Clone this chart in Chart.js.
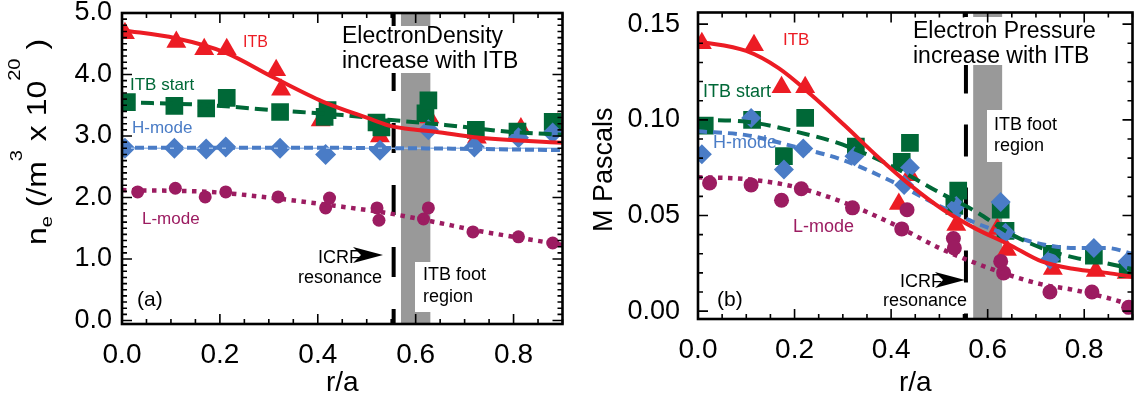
<!DOCTYPE html>
<html>
<head>
<meta charset="utf-8">
<script src="https://cdn.jsdelivr.net/npm/chart.js@4/dist/chart.umd.min.js"></script>
<style>
  html, body { margin: 0; padding: 0; background: #fff; overflow: hidden; }
  #wrap { position: relative; width: 1140px; height: 404px; overflow: hidden; }
  canvas { position: absolute; top: 0; }
</style>
</head>
<body>
<div id="wrap">
  <canvas id="ne" width="575" height="404" style="left:0"></canvas>
  <canvas id="pe" width="570" height="404" style="left:575px"></canvas>
</div>
<script>
const X_TICKS = [0, 0.2, 0.4, 0.6, 0.8];
const NE_TICKS = [0, 1, 2, 3, 4, 5];
const PE_TICKS = [0, 0.05, 0.1, 0.15];
const ICRF_R = 0.555;          // ICRF resonance position
const FOOT_R = [0.57, 0.63];   // ITB foot region

// (a) electron density, [r/a, 10^20 m^-3]
const neItbPts = [[0.006, 4.67], [0.111, 4.53], [0.168, 4.41], [0.214, 4.41], [0.315, 4.07], [0.325, 3.75],
  [0.406, 3.25], [0.527, 2.99], [0.628, 3.30], [0.725, 2.97], [0.815, 3.12], [0.89, 3.20]];
const neItbFit = [[0, 4.72], [0.11, 4.59], [0.21, 4.36], [0.31, 3.95], [0.41, 3.56], [0.51, 3.27],
  [0.55, 3.16], [0.6, 3.1], [0.64, 3.07], [0.72, 2.98], [0.9, 2.89]];
const neStartPts = [[0.01, 3.55], [0.107, 3.49], [0.172, 3.45], [0.214, 3.62], [0.323, 3.39], [0.414, 3.31],
  [0.42, 3.42], [0.52, 3.22], [0.53, 3.14], [0.62, 3.37], [0.626, 3.58], [0.723, 3.10], [0.808, 3.07], [0.88, 3.23]];
const neStartFit = [[0, 3.55], [0.18, 3.50], [0.31, 3.42], [0.45, 3.34], [0.55, 3.26], [0.66, 3.18],
  [0.79, 3.07], [0.9, 3.02]];
const neHPts = [[0.006, 2.80], [0.107, 2.80], [0.172, 2.79], [0.212, 2.82], [0.323, 2.80], [0.416, 2.70],
  [0.527, 2.77], [0.626, 3.10], [0.72, 2.82], [0.81, 2.97], [0.88, 3.05]];
const neHFit = [[0, 2.81], [0.3, 2.81], [0.6, 2.80], [0.9, 2.77]];
const neHFlat = [[0, 2.80], [0.9, 2.80]];
const neLPts = [[0.032, 2.09], [0.109, 2.15], [0.17, 2.01], [0.212, 2.09], [0.319, 2.01], [0.416, 1.83],
  [0.424, 1.99], [0.521, 1.83], [0.525, 1.63], [0.616, 1.65], [0.626, 1.83], [0.717, 1.44], [0.81, 1.36], [0.88, 1.26]];
const neLFit = [[0, 2.12], [0.18, 2.09], [0.31, 1.99], [0.45, 1.85], [0.54, 1.75], [0.64, 1.60],
  [0.72, 1.47], [0.8, 1.36], [0.9, 1.23]];

// (b) electron pressure, [r/a, MPa]
const peItbPts = [[0.008, 0.140], [0.116, 0.139], [0.173, 0.117], [0.222, 0.117], [0.416, 0.056], [0.439, 0.071],
  [0.535, 0.045], [0.62, 0.043], [0.64, 0.032], [0.735, 0.022], [0.824, 0.021], [0.888, 0.020]];
const peItbFit = [[0, 0.141], [0.1, 0.136], [0.167, 0.127], [0.235, 0.113], [0.304, 0.097], [0.371, 0.081],
  [0.439, 0.066], [0.508, 0.053], [0.576, 0.043], [0.643, 0.035], [0.712, 0.026], [0.78, 0.022], [0.847, 0.020], [0.9, 0.018]];
const peStartPts = [[0.014, 0.097], [0.112, 0.100], [0.178, 0.081], [0.222, 0.101], [0.327, 0.086], [0.422, 0.078],
  [0.439, 0.088], [0.531, 0.055], [0.539, 0.063], [0.627, 0.053], [0.637, 0.042], [0.733, 0.030], [0.82, 0.029], [0.89, 0.022]];
const peStartFit = [[0, 0.100], [0.1, 0.099], [0.2, 0.094], [0.3, 0.087], [0.4, 0.076], [0.5, 0.062],
  [0.576, 0.052], [0.643, 0.041], [0.712, 0.033], [0.78, 0.028], [0.847, 0.025], [0.9, 0.022]];
const peHPts = [[0.008, 0.082], [0.11, 0.101], [0.178, 0.074], [0.218, 0.085], [0.324, 0.081], [0.427, 0.066],
  [0.439, 0.075], [0.535, 0.055], [0.627, 0.057], [0.637, 0.041], [0.729, 0.027], [0.82, 0.033], [0.89, 0.026]];
const peHFit = [[0, 0.094], [0.1, 0.092], [0.2, 0.086], [0.3, 0.079], [0.4, 0.068], [0.5, 0.055],
  [0.576, 0.046], [0.643, 0.040], [0.712, 0.035], [0.78, 0.033], [0.847, 0.033], [0.9, 0.030]];
const peLPts = [[0.024, 0.067], [0.11, 0.066], [0.173, 0.058], [0.214, 0.064], [0.32, 0.054], [0.422, 0.043],
  [0.433, 0.053], [0.529, 0.038], [0.531, 0.033], [0.627, 0.026], [0.633, 0.020], [0.729, 0.010], [0.816, 0.010], [0.892, 0.002]];
const peLFit = [[0, 0.070], [0.1, 0.069], [0.2, 0.065], [0.3, 0.057], [0.4, 0.046], [0.5, 0.033],
  [0.576, 0.025], [0.643, 0.019], [0.712, 0.014], [0.78, 0.011], [0.847, 0.007], [0.9, 0.003]];

const FONT = '"Liberation Sans", Arial, Helvetica, sans-serif';
const RED = '#ec1c24';
const GREEN = '#006837';
const BLUE = '#4a7cc6';
const BLUE_THIN = '#9dbde8';
const PURPLE = '#9c1c61';
const BAND = '#999999';

const pts = (arr) => arr.map(([x, y]) => ({ x, y }));

const markerSet = (data, style, color, radius, order) => ({
  data: pts(data), showLine: false, pointStyle: style, pointRadius: radius, pointHoverRadius: radius,
  pointBackgroundColor: color, pointBorderColor: color, pointBorderWidth: 0, order,
});

const fitSet = (data, color, width, dash, order) => ({
  data: pts(data), showLine: true, pointRadius: 0, pointHoverRadius: 0, borderColor: color,
  borderWidth: width, borderDash: dash, borderCapStyle: 'butt', tension: 0.4,
  cubicInterpolationMode: 'monotone', fill: false, order,
});

function text(ctx, s, x, y, size, color) {
  ctx.font = size + 'px ' + FONT;
  ctx.fillStyle = color || '#000';
  ctx.textAlign = 'left';
  ctx.textBaseline = 'alphabetic';
  ctx.fillText(s, x, y);
}

// rotated label made of runs: [text, size, baseline shift]
function sideLabel(ctx, runs, x, yBottom, span) {
  ctx.save();
  ctx.translate(x, yBottom);
  ctx.rotate(-Math.PI / 2);
  let w = 0;
  runs.forEach(([s, size]) => { ctx.font = size + 'px ' + FONT; w += ctx.measureText(s).width; });
  const k = span ? span / w : 1;
  ctx.scale(k, 1);
  ctx.fillStyle = '#000';
  ctx.textBaseline = 'alphabetic';
  ctx.textAlign = 'left';
  let cx = 0;
  runs.forEach(([s, size, dy]) => {
    ctx.font = size + 'px ' + FONT;
    ctx.fillText(s, cx, dy || 0);
    cx += ctx.measureText(s).width;
  });
  ctx.restore();
}

function arrow(ctx, tipX, y, len, half) {
  ctx.beginPath();
  ctx.moveTo(tipX, y);
  ctx.lineTo(tipX - len, y - half);
  ctx.lineTo(tipX - len + 8, y);
  ctx.lineTo(tipX - len, y + half);
  ctx.closePath();
  ctx.fillStyle = '#000';
  ctx.fill();
}

function frame(chart, f) {
  const { ctx, chartArea: a, scales: { x, y } } = chart;
  ctx.save();
  ctx.strokeStyle = '#000';
  ctx.lineWidth = 1.6;
  ctx.beginPath();
  const isMajor = (list, v) => list.some((t) => Math.abs(t - v) < 1e-9);
  for (let i = Math.ceil(x.min / f.xStep - 1e-9); i * f.xStep <= x.max + 1e-9; i++) {
    const v = i * f.xStep;
    const len = isMajor(X_TICKS, v) ? 10 : 5;
    const px = x.getPixelForValue(v);
    ctx.moveTo(px, a.bottom); ctx.lineTo(px, a.bottom - len);
    ctx.moveTo(px, a.top); ctx.lineTo(px, a.top + len);
  }
  for (let i = Math.ceil(y.min / f.yStep - 1e-9); i * f.yStep <= y.max + 1e-9; i++) {
    const v = i * f.yStep;
    const len = isMajor(f.yTicks, v) ? 10 : 5;
    const py = y.getPixelForValue(v);
    ctx.moveTo(a.left, py); ctx.lineTo(a.left + len, py);
    ctx.moveTo(a.right, py); ctx.lineTo(a.right - len, py);
  }
  ctx.stroke();
  ctx.lineWidth = 2.6;
  ctx.strokeRect(a.left, a.top, a.right - a.left, a.bottom - a.top);
  ctx.restore();
}

function decorations(d) {
  return {
    id: 'decorations',
    beforeDatasetsDraw(chart) {
      const { ctx, chartArea: a, scales: { x } } = chart;
      ctx.save();
      // ITB foot band
      const b0 = x.getPixelForValue(FOOT_R[0]);
      const b1 = x.getPixelForValue(FOOT_R[1]);
      ctx.fillStyle = BAND;
      ctx.fillRect(b0, a.top, b1 - b0, a.bottom - a.top);
      // ICRF resonance line
      const lx = x.getPixelForValue(ICRF_R);
      ctx.strokeStyle = '#000';
      ctx.lineWidth = 4;
      ctx.setLineDash(d.dash);
      ctx.lineDashOffset = 14;
      ctx.beginPath();
      ctx.moveTo(lx, a.top);
      ctx.lineTo(lx, a.bottom);
      ctx.stroke();
      ctx.setLineDash([]);
      // text boxes
      ctx.fillStyle = '#fff';
      d.boxes.forEach(([bx, by, bw, bh]) => ctx.fillRect(bx, by, bw, bh));
      d.notes.forEach(([s, tx, ty, size]) => text(ctx, s, tx, ty, size, '#000'));
      arrow(ctx, d.arrow[0], d.arrow[1], 30, 8);
      ctx.restore();
    },
    afterDatasetsDraw(chart) {
      const { ctx } = chart;
      ctx.save();
      d.labels.forEach(([s, tx, ty, size, color]) => text(ctx, s, tx, ty, size, color));
      sideLabel(ctx, d.yTitle, d.yTitleX, d.yTitleBottom, d.yTitleSpan);
      ctx.restore();
      frame(chart, d.frame);
    },
  };
}

function scaleSet(p) {
  return {
    x: {
      type: 'linear', min: 0, max: 0.9,
      grid: { display: false, drawTicks: false }, border: { display: false },
      afterBuildTicks: (s) => { s.ticks = X_TICKS.map((v) => ({ value: v })); },
      afterFit: (s) => { s.height = p.xHeight; s.paddingLeft = 0; s.paddingRight = 0; },
      ticks: { color: '#000', font: { family: FONT, size: 28 }, padding: 14, maxRotation: 0, autoSkip: false,
        callback: (v) => v.toFixed(1) },
      title: { display: true, text: 'r/a', color: '#000', font: { family: FONT, size: 28 }, padding: { top: 0, bottom: 4 } },
    },
    y: {
      type: 'linear', min: p.yMin, max: p.yMax,
      grid: { display: false, drawTicks: false }, border: { display: false },
      afterBuildTicks: (s) => { s.ticks = p.yTicks.map((v) => ({ value: v })); },
      afterFit: (s) => { s.width = p.yWidth; s.paddingTop = 0; s.paddingBottom = 0; },
      ticks: { color: '#000', font: { family: FONT, size: 27 }, padding: p.yPad, autoSkip: false,
        callback: (v) => v.toFixed(p.digits) },
    },
  };
}

function makeChart(id, datasets, p, deco) {
  return new Chart(document.getElementById(id), {
    type: 'scatter',
    data: { datasets },
    options: {
      responsive: false, animation: false, events: [],
      layout: { padding: { left: 0, top: p.top, right: p.right, bottom: 0 } },
      plugins: { legend: { display: false }, tooltip: { enabled: false } },
      scales: scaleSet(p),
    },
    plugins: [decorations(deco)],
  });
}

// panel (a)
makeChart('ne', [
  fitSet(neItbFit, RED, 4, [], 1),
  fitSet(neStartFit, GREEN, 4, [13, 6], 2),
  fitSet(neHFit, BLUE, 4, [9, 4], 3),
  fitSet(neHFlat, BLUE_THIN, 1.5, [], 4),
  fitSet(neLFit, PURPLE, 4.5, [4.5, 5.5], 5),
  markerSet(neLPts, 'circle', PURPLE, 6.5, 10),
  markerSet(neHPts, 'rectRot', BLUE, 10.5, 11),
  markerSet(neStartPts, 'rect', GREEN, 12.5, 12),
  markerSet(neItbPts, 'triangle', RED, 11.5, 13),
], { top: 13, right: 8, xHeight: 80, yWidth: 122, yMin: -0.057, yMax: 5.0, yTicks: NE_TICKS, digits: 1, yPad: 10 }, {
  dash: [30, 32],
  boxes: [[340, 26, 184, 47], [415, 262, 78, 50]],
  notes: [
    ['ElectronDensity', 342, 43, 23], ['increase with ITB', 342, 68, 23],
    ['ITB foot', 423, 280, 18], ['region', 423, 302, 18],
    ['ICRF', 318, 263, 18], ['resonance', 298, 283, 18],
    ['(a)', 137, 306, 21],
  ],
  arrow: [383, 255],
  labels: [
    ['ITB', 243, 47, 16, RED], ['ITB start', 130, 90, 17, GREEN],
    ['H-mode', 132, 133, 17, BLUE], ['L-mode', 142, 224, 17, PURPLE],
  ],
  yTitle: [['n', 27], ['e', 17, 6], [' (/m', 27], ['3', 17, -24], [' x 10', 27], ['20', 17, -26], [' )', 27]],
  yTitleX: 46, yTitleBottom: 245, yTitleSpan: 206,
  frame: { xStep: 0.05, yStep: 0.1, yTicks: NE_TICKS },
});

// panel (b)
const OX = 575;
makeChart('pe', [
  fitSet(peItbFit, RED, 4, [], 1),
  fitSet(peStartFit, GREEN, 4, [13, 7], 2),
  fitSet(peHFit, BLUE, 4, [9, 6], 3),
  fitSet(peLFit, PURPLE, 4.5, [4.5, 5.5], 5),
  markerSet(peLPts, 'circle', PURPLE, 7.5, 10),
  markerSet(peHPts, 'rectRot', BLUE, 10, 11),
  markerSet(peStartPts, 'rect', GREEN, 12.5, 12),
  markerSet(peItbPts, 'triangle', RED, 11.5, 13),
], { top: 5, right: 5, xHeight: 85, yWidth: 123, yMin: -0.0041, yMax: 0.1561, yTicks: PE_TICKS, digits: 2, yPad: 18 }, {
  dash: [32, 31],
  boxes: [[911 - OX, 17, 192, 48], [987 - OX, 110, 76, 52]],
  notes: [
    ['Electron Pressure', 913 - OX, 38, 23], ['increase with ITB', 913 - OX, 63, 23],
    ['ITB foot', 994 - OX, 130, 18], ['region', 994 - OX, 151, 18],
    ['ICRF', 900 - OX, 287, 18], ['resonance', 883 - OX, 306, 18],
    ['(b)', 717 - OX, 306, 21],
  ],
  arrow: [965 - OX, 280],
  labels: [
    ['ITB', 783 - OX, 45, 17, RED], ['ITB start', 703 - OX, 97, 18, GREEN],
    ['H-mode', 713 - OX, 148, 18, BLUE], ['L-mode', 793 - OX, 232, 18, PURPLE],
  ],
  yTitle: [['M Pascals', 27]],
  yTitleX: 612 - OX, yTitleBottom: 232, yTitleSpan: 0,
  frame: { xStep: 0.05, yStep: 0.01, yTicks: PE_TICKS },
});
</script>
</body>
</html>
